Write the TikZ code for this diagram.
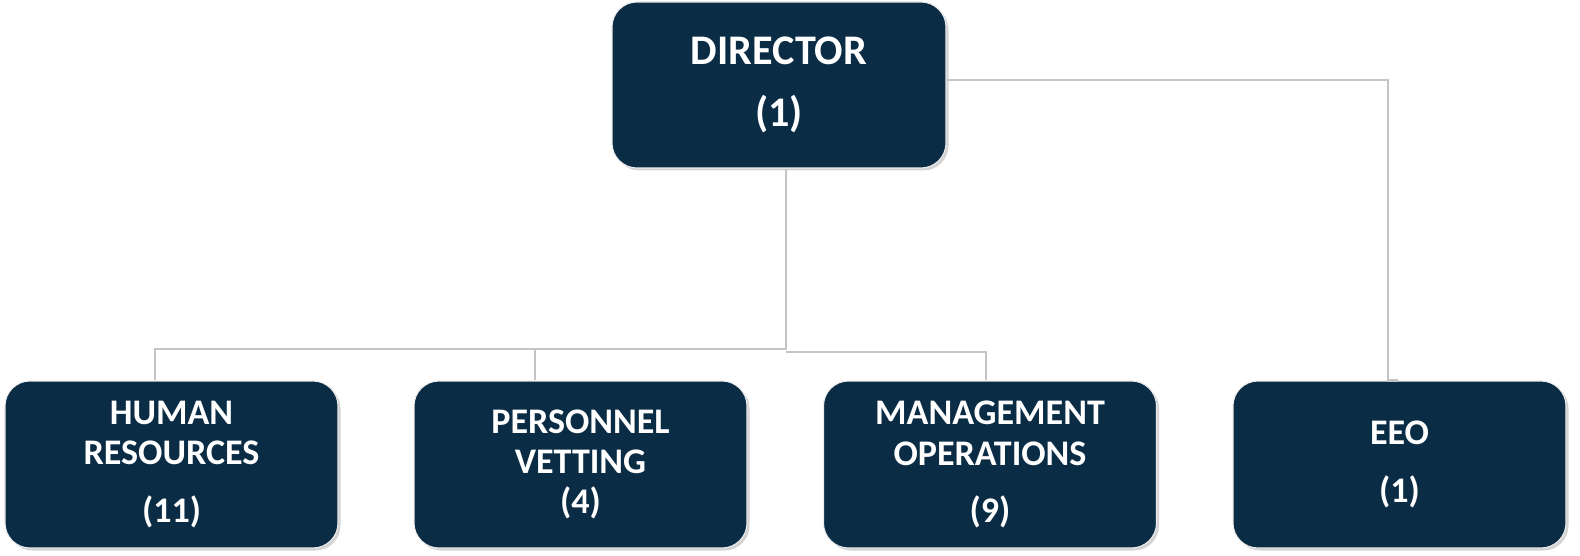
\documentclass[tikz,border=0pt]{standalone}
\usepackage{fontspec}
\setmainfont{Carlito}
\usetikzlibrary{shadows}
\definecolor{navy}{HTML}{0B2C45}
\definecolor{linkgray}{HTML}{C4C4C4}

\begin{document}
\begin{tikzpicture}[
  unit/.style = {draw=white!85!gray, line width=0.6pt, fill=navy, rounded corners=0.5cm,
    text=white, font=\fontsize{20.5}{22.8}\selectfont\bfseries, align=center,
    minimum width=6.66cm, minimum height=3.34cm, inner sep=0pt,
    drop shadow={opacity=0.35, shadow xshift=0.05cm, shadow yshift=-0.05cm}},
  link/.style = {draw=linkgray, line width=1.2pt}
]
\useasboundingbox (0,0) rectangle (31.6,-11.12);
\node[unit, font=\fontsize{24}{28}\selectfont\bfseries, minimum width=6.68cm, minimum height=3.32cm] (dir) at (15.58,-1.70) {DIRECTOR\\[7pt](1)};
\node[unit] (hr) at (3.43,-9.29) {HUMAN\\RESOURCES\\[9.7pt](11)};
\node[unit] (pv) at (11.61,-9.29) {PERSONNEL\\VETTING\\(4)};
\node[unit] (mo) at (19.80,-9.29) {MANAGEMENT\\OPERATIONS\\[9.7pt](9)};
\node[unit] (eeo) at (27.99,-9.29) {EEO\\[10pt](1)};
\coordinate (bus) at (15.72,-6.98);
\draw[link] ([xshift=0.14cm]dir.south) -- (bus) -| ([xshift=-0.33cm]hr.north);
\draw[link] (bus) -| ([xshift=-0.91cm]pv.north);
\draw[link] ([yshift=-0.06cm]bus) -| ([xshift=-0.08cm]mo.north);
\draw[link] ([yshift=0.1cm]dir.east) -| ([xshift=-0.23cm]eeo.north) -- ++(0.2,0);
\end{tikzpicture}
\end{document}
